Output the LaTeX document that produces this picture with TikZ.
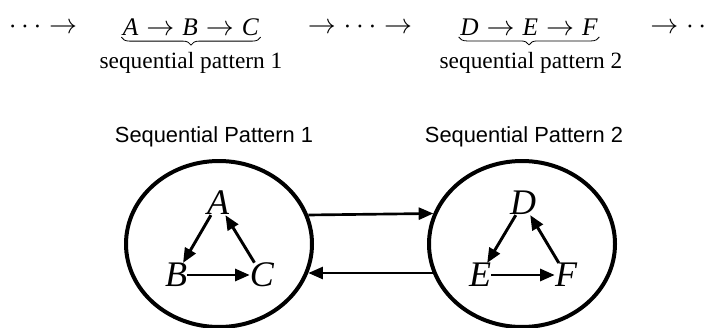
\documentclass[tikz,border=0pt]{standalone}
\usepackage{fix-cm}
\usepackage{amsmath}
\usepackage{fontspec}
\setmainfont{Liberation Serif}
\setsansfont{Liberation Sans}
\usetikzlibrary{arrows.meta, shapes.geometric, decorations.pathreplacing}

\newcommand{\mv}[1]{\textit{#1}}
\newcommand{\rarr}{\hspace{6pt}{\fontsize{21}{24}\selectfont$\rightarrow$}\hspace{6pt}}

\begin{document}
\begin{tikzpicture}[
    x=0.75pt, y=-0.75pt,
    >={Triangle[length=11pt, width=9pt]},
    % -- shared styles --
    chain text/.style={font=\fontsize{19}{22}\selectfont, inner sep=1pt},
    chain dots/.style={font=\fontsize{21}{24}\selectfont, inner sep=0pt},
    brace label/.style={font=\fontsize{17.5}{21}\selectfont},
    pattern title/.style={font=\fontsize{16.4}{19}\sffamily},
    pattern ring/.style={draw, line width=3pt, ellipse, minimum width=186*0.75pt,
        minimum height=166*0.75pt},
    item/.style={font=\fontsize{27}{30}\selectfont\itshape, inner sep=0pt},
    inner arrow/.style={->, line width=2.2pt},
    link arrow/.style={->, line width=2pt},
]
\useasboundingbox (0,0) rectangle (710,328);

% ------------------------------------------------------------------
%  TOP ROW -- the sequence with its two patterns
% ------------------------------------------------------------------
\node[chain dots] (lead) at (43,27) {$\cdots\rightarrow$};
\node[chain text] (seqA) at (191,27) {\mv{A}\rarr\mv{B}\rarr\mv{C}};
\node[chain dots] (gap) at (360,27) {$\rightarrow\cdots\rightarrow$};
\node[chain text] (seqB) at (529,27) {\mv{D}\rarr\mv{E}\rarr\mv{F}};
\node[chain dots, anchor=west] (tail) at (650,27) {$\rightarrow\cdots$};

\draw[decorate, decoration={brace, mirror, amplitude=6pt}, line width=0.6pt]
    (seqA.south west) -- (seqA.south east);
\draw[decorate, decoration={brace, mirror, amplitude=6pt}, line width=0.6pt]
    (seqB.south west) -- (seqB.south east);
\node[brace label] (labA) at (191,63) {sequential pattern 1};
\node[brace label] (labB) at (531,63) {sequential pattern 2};

% ------------------------------------------------------------------
%  BOTTOM ROW -- each pattern as a small cycle
% ------------------------------------------------------------------
\node[pattern title] (titleA) at (214,137) {Sequential Pattern 1};
\node[pattern title] (titleB) at (524,137) {Sequential Pattern 2};

\node[pattern ring] (ringA) at (219,244) {};
\node[pattern ring] (ringB) at (522,244) {};

\node[item] (A) at (218,203) {A};
\node[item] (B) at (176,275) {B};
\node[item] (C) at (262,275) {C};
\node[item] (D) at (523,203) {D};
\node[item] (E) at (480,275) {E};
\node[item] (F) at (566,275) {F};

\draw[inner arrow] (A) -- (B);
\draw[inner arrow] (B) -- (C);
\draw[inner arrow] (C) -- (A);
\draw[inner arrow] (D) -- (E);
\draw[inner arrow] (E) -- (F);
\draw[inner arrow] (F) -- (D);

\draw[link arrow] (ringA.18.5) -- (ringB.161.5);
\draw[link arrow] (ringB.198.5) -- (ringA.-18.5);

\end{tikzpicture}
\end{document}
